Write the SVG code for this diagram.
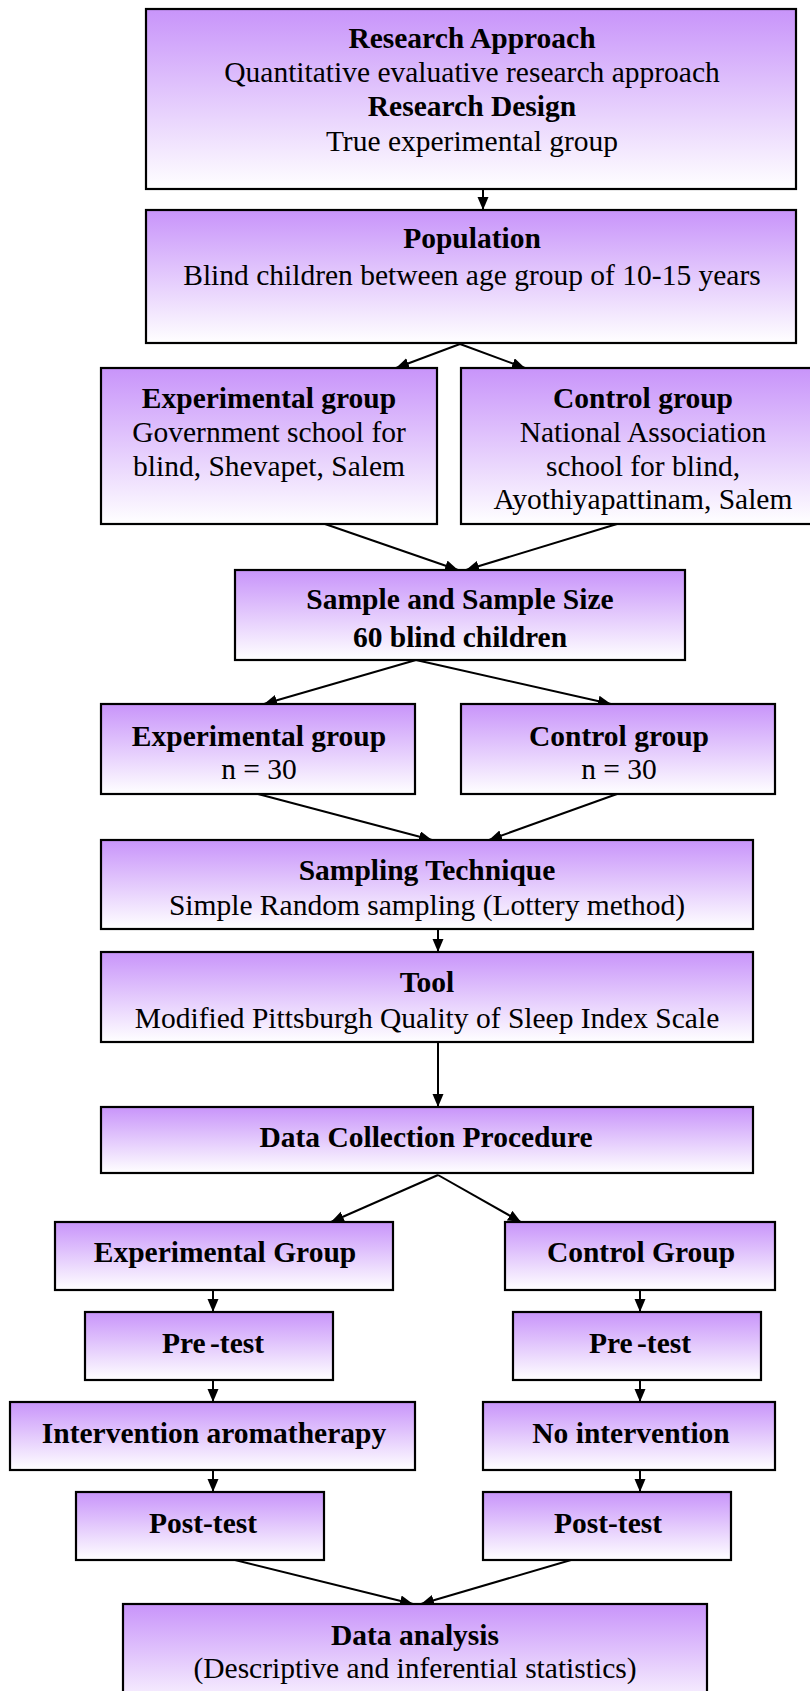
<svg xmlns="http://www.w3.org/2000/svg" width="810" height="1691" viewBox="0 0 810 1691">
<defs>
<linearGradient id="g" x1="0" y1="0" x2="0" y2="1">
<stop offset="0" stop-color="#C894FA"/>
<stop offset="1" stop-color="#FFFFFF"/>
</linearGradient>
<marker id="ah" markerUnits="userSpaceOnUse" markerWidth="14" markerHeight="12" refX="13" refY="5.5" orient="auto">
<path d="M0,0 L13,5.5 L0,11 z" fill="#000"/>
</marker>
<style>
.box{fill:url(#g);stroke:#000;stroke-width:2.2}
.t{font-family:"Liberation Serif","Times New Roman",serif;font-size:29.5px;text-anchor:middle;fill:#000}
.b{font-weight:bold}
.c{stroke:#000;stroke-width:2;fill:none;marker-end:url(#ah)}
</style>
</defs>
<rect width="810" height="1691" fill="#fff"/>
<g id="connectors">
<line class="c" x1="483" y1="189" x2="483" y2="210"/>
<line class="c" x1="460" y1="344" x2="396" y2="368"/>
<line class="c" x1="460" y1="344" x2="525" y2="368"/>
<line class="c" x1="325" y1="524" x2="458" y2="570"/>
<line class="c" x1="617" y1="524" x2="466" y2="570"/>
<line class="c" x1="416" y1="660" x2="264" y2="704"/>
<line class="c" x1="416" y1="660" x2="611" y2="704"/>
<line class="c" x1="258" y1="794" x2="432" y2="840"/>
<line class="c" x1="617" y1="794" x2="489" y2="840"/>
<line class="c" x1="438" y1="929" x2="438" y2="952"/>
<line class="c" x1="438" y1="1042" x2="438" y2="1107"/>
<line class="c" x1="438" y1="1175" x2="331" y2="1222"/>
<line class="c" x1="438" y1="1175" x2="521" y2="1222"/>
<line class="c" x1="213" y1="1290" x2="213" y2="1312"/>
<line class="c" x1="640" y1="1290" x2="640" y2="1312"/>
<line class="c" x1="213" y1="1380" x2="213" y2="1402"/>
<line class="c" x1="640" y1="1380" x2="640" y2="1402"/>
<line class="c" x1="213" y1="1470" x2="213" y2="1492"/>
<line class="c" x1="640" y1="1470" x2="640" y2="1492"/>
<line class="c" x1="235" y1="1560" x2="413" y2="1604"/>
<line class="c" x1="571" y1="1560" x2="421" y2="1604"/>
</g>
<g id="research">
<rect class="box" x="146" y="9" width="650" height="180"/>
<text class="t b" x="472" y="48">Research Approach</text>
<text class="t" x="472" y="82">Quantitative evaluative research approach</text>
<text class="t b" x="472" y="116">Research Design</text>
<text class="t" x="472" y="151">True experimental group</text>
</g>
<g id="population">
<rect class="box" x="146" y="210" width="650" height="133"/>
<text class="t b" x="472" y="248">Population</text>
<text class="t" x="472" y="285">Blind children between age group of 10-15 years</text>
</g>
<g id="exp1">
<rect class="box" x="101" y="368" width="336" height="156"/>
<text class="t b" x="269" y="408">Experimental group</text>
<text class="t" x="269" y="442">Government school for</text>
<text class="t" x="269" y="476">blind, Shevapet, Salem</text>
</g>
<g id="ctrl1">
<rect class="box" x="461" y="368" width="365" height="156"/>
<text class="t b" x="643" y="408">Control group</text>
<text class="t" x="643" y="442">National Association</text>
<text class="t" x="643" y="476">school for blind,</text>
<text class="t" x="643" y="509">Ayothiyapattinam, Salem</text>
</g>
<g id="sample">
<rect class="box" x="235" y="570" width="450" height="90"/>
<text class="t b" x="460" y="609">Sample and Sample Size</text>
<text class="t b" x="460" y="647">60 blind children</text>
</g>
<g id="exp2">
<rect class="box" x="101" y="704" width="314" height="90"/>
<text class="t b" x="259" y="746">Experimental group</text>
<text class="t" x="259" y="779">n = 30</text>
</g>
<g id="ctrl2">
<rect class="box" x="461" y="704" width="314" height="90"/>
<text class="t b" x="619" y="746">Control group</text>
<text class="t" x="619" y="779">n = 30</text>
</g>
<g id="sampling">
<rect class="box" x="101" y="840" width="652" height="89"/>
<text class="t b" x="427" y="880">Sampling Technique</text>
<text class="t" x="427" y="915">Simple Random sampling (Lottery method)</text>
</g>
<g id="tool">
<rect class="box" x="101" y="952" width="652" height="90"/>
<text class="t b" x="427" y="992">Tool</text>
<text class="t" x="427" y="1028">Modified Pittsburgh Quality of Sleep Index Scale</text>
</g>
<g id="datacollection">
<rect class="box" x="101" y="1107" width="652" height="66"/>
<text class="t b" x="426" y="1147">Data Collection Procedure</text>
</g>
<g id="expgroup">
<rect class="box" x="55" y="1222" width="338" height="68"/>
<text class="t b" x="225" y="1262">Experimental Group</text>
</g>
<g id="ctrlgroup">
<rect class="box" x="505" y="1222" width="270" height="68"/>
<text class="t b" x="641" y="1262">Control Group</text>
</g>
<g id="pretest1">
<rect class="box" x="85" y="1312" width="248" height="68"/>
<text class="t b" x="213" y="1353" word-spacing="-3">Pre -test</text>
</g>
<g id="pretest2">
<rect class="box" x="513" y="1312" width="248" height="68"/>
<text class="t b" x="640" y="1353" word-spacing="-3">Pre -test</text>
</g>
<g id="intervention">
<rect class="box" x="10" y="1402" width="405" height="68"/>
<text class="t b" x="214" y="1443">Intervention aromatherapy</text>
</g>
<g id="nointervention">
<rect class="box" x="483" y="1402" width="292" height="68"/>
<text class="t b" x="631" y="1443">No intervention</text>
</g>
<g id="posttest1">
<rect class="box" x="76" y="1492" width="248" height="68"/>
<text class="t b" x="203" y="1533">Post-test</text>
</g>
<g id="posttest2">
<rect class="box" x="483" y="1492" width="248" height="68"/>
<text class="t b" x="608" y="1533">Post-test</text>
</g>
<g id="analysis">
<rect class="box" x="123" y="1604" width="584" height="110"/>
<text class="t b" x="415" y="1645">Data analysis</text>
<text class="t" x="415" y="1678">(Descriptive and inferential statistics)</text>
</g>
</svg>
